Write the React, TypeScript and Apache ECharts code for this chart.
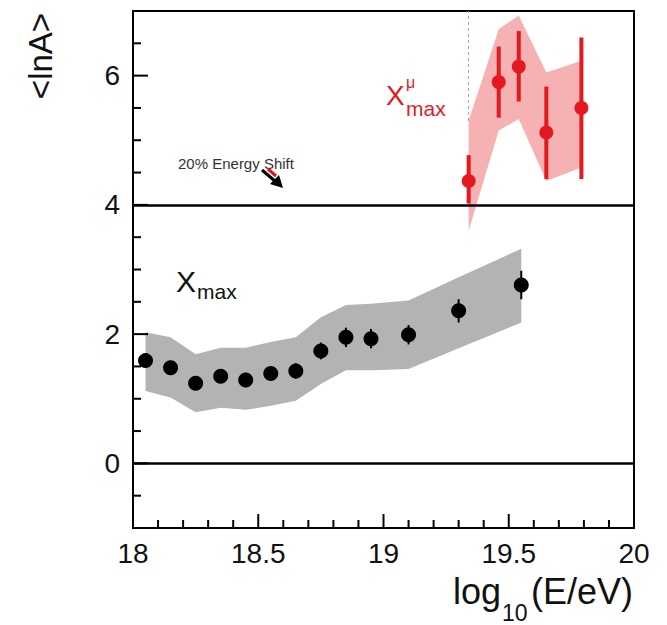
import React, { useEffect, useRef } from "react";
import * as echarts from "echarts";

// Xmax (black) data
const xmaxX = [18.05, 18.15, 18.25, 18.35, 18.45, 18.55, 18.65, 18.75, 18.85, 18.95, 19.1, 19.3, 19.55];
const xmaxY = [1.59, 1.48, 1.24, 1.35, 1.29, 1.39, 1.43, 1.74, 1.95, 1.93, 1.99, 2.36, 2.76];
const xmaxErr = [0.05, 0.05, 0.05, 0.06, 0.06, 0.08, 0.12, 0.13, 0.15, 0.15, 0.15, 0.18, 0.22];
const xmaxSysHi = [2.03, 1.95, 1.69, 1.79, 1.79, 1.88, 1.95, 2.26, 2.45, 2.47, 2.52, 2.88, 3.32];
const xmaxSysLo = [1.12, 1.02, 0.79, 0.86, 0.83, 0.89, 0.97, 1.23, 1.44, 1.44, 1.46, 1.78, 2.18];

// Xmax-mu (red) data
const muX = [19.34, 19.46, 19.54, 19.65, 19.79];
const muY = [4.37, 5.9, 6.14, 5.12, 5.5];
const muLo = [4.02, 5.35, 5.6, 4.4, 4.4];
const muHi = [4.77, 6.45, 6.69, 5.83, 6.59];
const muSysHi = [5.3, 6.72, 6.93, 6.05, 6.23];
const muSysLo = [3.6, 5.15, 5.33, 4.37, 4.58];

// axes
const xRange = { min: 18, max: 20 };
const xMajorTicks = [18, 18.5, 19, 19.5, 20];
const xMinorTicks = [
  18.1, 18.2, 18.3, 18.4, 18.6, 18.7, 18.8, 18.9, 19.1, 19.2, 19.3, 19.4, 19.6, 19.7, 19.8, 19.9,
];
const yRange = { min: -1, max: 7 };
const yLabels = [0, 2, 4, 6];
const yMinorTicks = [-0.5, 0.5, 1, 1.5, 2.5, 3, 3.5, 4.5, 5, 5.5, 6.5];
const refLines = [0, 4];

const FONT = "Liberation Sans, Arial, Helvetica, sans-serif";

function bandSeries(xs: number[], hi: number[], lo: number[], fill: string, z: number) {
  return {
    type: "custom",
    z,
    clip: false,
    encode: { x: 0, y: 1 },
    data: [[xs[0], hi[0]]],
    renderItem: (params: any, api: any) => {
      if (params.dataIndex !== 0) return null;
      const pts: number[][] = [];
      for (let i = 0; i < xs.length; i++) pts.push(api.coord([xs[i], hi[i]]));
      for (let i = xs.length - 1; i >= 0; i--) pts.push(api.coord([xs[i], lo[i]]));
      return { type: "polygon", shape: { points: pts }, style: { fill, stroke: "none" } };
    },
  };
}

function errSeries(xs: number[], lo: number[], hi: number[], color: string, width: number, z: number) {
  return {
    type: "custom",
    z,
    clip: false,
    encode: { x: 0, y: [1, 2] },
    data: xs.map((x, i) => [x, lo[i], hi[i]]),
    renderItem: (params: any, api: any) => {
      const a = api.coord([api.value(0), api.value(1)]);
      const b = api.coord([api.value(0), api.value(2)]);
      return {
        type: "line",
        shape: { x1: a[0], y1: a[1], x2: b[0], y2: b[1] },
        style: { stroke: color, lineWidth: width },
      };
    },
  };
}

export default function App() {
  const ref = useRef<HTMLDivElement>(null);
  useEffect(() => {
    if (!ref.current) return;
    const chart = echarts.init(ref.current, null, { renderer: "svg" });
    const red = "#e3191f";
    const lineStyle = { color: "#000", width: 2 };
    const graphic: any[] = [
      {
        type: "text",
        x: 40,
        y: 56,
        rotation: Math.PI / 2,
        style: { text: "<lnA>", fontSize: 33, fontFamily: FONT, fill: "#111", align: "center", verticalAlign: "middle" },
      },
      {
        type: "text",
        x: 453,
        y: 591,
        style: { text: "log", fontSize: 36, fontFamily: FONT, fill: "#111", align: "left", verticalAlign: "middle" },
      },
      {
        type: "text",
        x: 502,
        y: 613,
        style: { text: "10", fontSize: 23, fontFamily: FONT, fill: "#111", align: "left", verticalAlign: "middle" },
      },
      {
        type: "text",
        x: 633,
        y: 591,
        style: { text: "(E/eV)", fontSize: 36, fontFamily: FONT, fill: "#111", align: "right", verticalAlign: "middle" },
      },
      {
        type: "text",
        x: 176,
        y: 281,
        style: { text: "X", fontSize: 30, fontFamily: FONT, fill: "#111", align: "left", verticalAlign: "middle" },
      },
      {
        type: "text",
        x: 197,
        y: 291,
        style: { text: "max", fontSize: 21, fontFamily: FONT, fill: "#111", align: "left", verticalAlign: "middle" },
      },
      {
        type: "text",
        x: 386,
        y: 95,
        style: { text: "X", fontSize: 28, fontFamily: FONT, fill: red, align: "left", verticalAlign: "middle" },
      },
      {
        type: "text",
        x: 406,
        y: 82,
        style: { text: "μ", fontSize: 16, fontFamily: FONT, fill: red, align: "left", verticalAlign: "middle" },
      },
      {
        type: "text",
        x: 406,
        y: 108,
        style: { text: "max", fontSize: 21, fontFamily: FONT, fill: red, align: "left", verticalAlign: "middle" },
      },
      {
        type: "text",
        x: 178,
        y: 163,
        style: { text: "20% Energy Shift", fontSize: 15, fontFamily: FONT, fill: "#333", align: "left", verticalAlign: "middle" },
      },
      { type: "line", shape: { x1: 262, y1: 170, x2: 276, y2: 182 }, style: { stroke: "#000", lineWidth: 3 } },
      { type: "polygon", shape: { points: [[283, 188], [270, 184], [279, 175]] }, style: { fill: "#000" } },
      { type: "line", shape: { x1: 268, y1: 169, x2: 276, y2: 176 }, style: { stroke: "#e0141c", lineWidth: 3 } },
    ];
    const option: any = {
      animation: false,
      backgroundColor: "#fff",
      textStyle: { fontFamily: FONT },
      grid: { left: 133, right: 33, top: 11, bottom: 97, show: true, borderColor: "#000", borderWidth: 2 },
      xAxis: {
        type: "value",
        min: xRange.min,
        max: xRange.max,
        interval: 0.5,
        axisLine: { show: true, onZero: false, lineStyle },
        axisTick: { show: false },
        axisLabel: { fontSize: 28, color: "#111", margin: 11, fontFamily: FONT },
        splitLine: { show: false },
      },
      yAxis: {
        type: "value",
        min: yRange.min,
        max: yRange.max,
        axisLine: { show: true, onZero: false, lineStyle },
        axisTick: { show: false },
        axisLabel: { show: true, customValues: yLabels, fontSize: 28, color: "#111", margin: 13, fontFamily: FONT },
        splitLine: { show: false },
      },
      series: [
        bandSeries(xmaxX, xmaxSysHi, xmaxSysLo, "#b3b3b3", 1),
        bandSeries(muX, muSysHi, muSysLo, "#f6b2b2", 1),
        errSeries(xmaxX, xmaxY.map((v, i) => v - xmaxErr[i]), xmaxY.map((v, i) => v + xmaxErr[i]), "#000", 2, 3),
        errSeries(muX, muLo, muHi, red, 4, 3),
        {
          type: "scatter",
          z: 5,
          symbol: "circle",
          symbolSize: 15,
          itemStyle: { color: "#000", opacity: 1 },
          data: xmaxX.map((x, i) => [x, xmaxY[i]]),
          markLine: {
            silent: true,
            symbol: "none",
            z: 4,
            label: { show: false },
            lineStyle: { color: "#000", width: 2.5, type: "solid" },
            data: refLines.map((v) => ({ yAxis: v })),
          },
        },
        {
          type: "scatter",
          z: 5,
          symbol: "circle",
          symbolSize: 14,
          itemStyle: { color: red, opacity: 1 },
          data: muX.map((x, i) => [x, muY[i]]),
          markLine: {
            silent: true,
            symbol: "none",
            z: 2,
            label: { show: false },
            lineStyle: { color: "#f08a8a", width: 1, type: [3, 3] },
            data: [[{ coord: [muX[0], muSysHi[0]] }, { coord: [muX[0], yRange.max] }]],
          },
        },
      ],
      graphic,
    };
    chart.setOption(option);

    // tick marks placed through the axes' own scales (inside the frame)
    const ticks: any[] = [];
    const addX = (v: number, len: number) => {
      const p = chart.convertToPixel({ gridIndex: 0 }, [v, yRange.min]) as number[];
      ticks.push({
        type: "line",
        z: 100,
        shape: { x1: p[0], y1: p[1], x2: p[0], y2: p[1] - len },
        style: { stroke: "#000", lineWidth: 2 },
      });
    };
    const addY = (v: number, len: number) => {
      const p = chart.convertToPixel({ gridIndex: 0 }, [xRange.min, v]) as number[];
      ticks.push({
        type: "line",
        z: 100,
        shape: { x1: p[0], y1: p[1], x2: p[0] + len, y2: p[1] },
        style: { stroke: "#000", lineWidth: 2 },
      });
    };
    xMajorTicks.forEach((v) => addX(v, 14));
    xMinorTicks.forEach((v) => addX(v, 8));
    yLabels.forEach((v) => addY(v, 15));
    yMinorTicks.forEach((v) => addY(v, 8));
    chart.setOption({ graphic: graphic.concat(ticks) });

    return () => chart.dispose();
  }, []);
  return <div ref={ref} style={{ position: "absolute", left: 0, top: 0, width: 667, height: 625 }} />;
}
